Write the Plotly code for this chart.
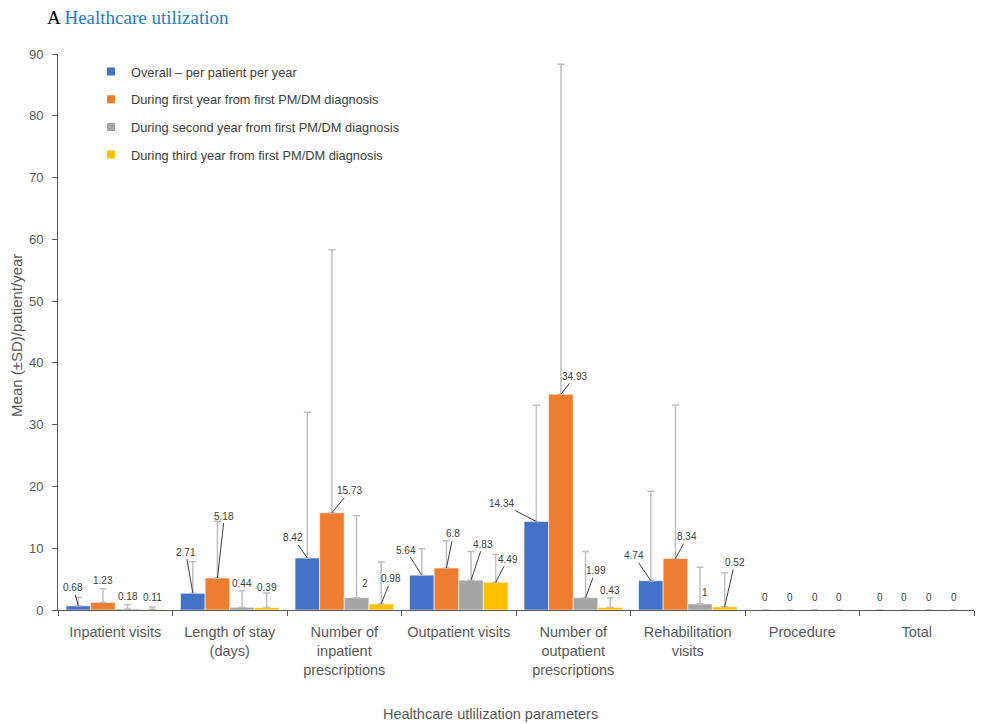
import plotly.graph_objects as go

# ---------------- data ----------------
categories = [
    "Inpatient visits",
    "Length of stay<br>(days)",
    "Number of<br>inpatient<br>prescriptions",
    "Outpatient visits",
    "Number of<br>outpatient<br>prescriptions",
    "Rehabilitation<br>visits",
    "Procedure",
    "Total",
]
series_names = [
    "Overall \u2013 per patient per year",
    "During first year from first PM/DM diagnosis",
    "During second year from first PM/DM diagnosis",
    "During third year from first PM/DM diagnosis",
]
overall = [0.68, 2.71, 8.42, 5.64, 14.34, 4.74, 0, 0]
first_year = [1.23, 5.18, 15.73, 6.8, 34.93, 8.34, 0, 0]
second_year = [0.18, 0.44, 2, 4.83, 1.99, 1, 0, 0]
third_year = [0.11, 0.39, 0.98, 4.49, 0.43, 0.52, 0, 0]

overall_sd = [1.4, 5.1, 23.6, 4.26, 18.8, 14.5, None, None]
first_year_sd = [2.2, 9.2, 42.6, 4.4, 53.4, 24.8, None, None]
second_year_sd = [0.68, 2.66, 13.3, 4.62, 7.46, 5.9, None, None]
third_year_sd = [0.38, 2.36, 6.8, 4.5, 1.57, 5.5, None, None]

values = [overall, first_year, second_year, third_year]
sds = [overall_sd, first_year_sd, second_year_sd, third_year_sd]

# ---------------- style ----------------
colors = ["#4472C4", "#ED7D31", "#A5A5A5", "#FFC000"]
BARGAP = 0.14
# label offsets (px) per series per category: (dx, dy, draw leader)
label_offsets = [
    [(-5, -18, True), (-7, -41, True), (-14, -20, True), (-16, -25, True),
     (-35, -18, True), (-17, -25, True), (0, -13, False), (0, -13, False)],
    [(0, -22, False), (7, -62, True), (18, -22, True), (7, -34, True),
     (14, -18, True), (12, -22, True), (0, -13, False), (0, -13, False)],
    [(0, -12, False), (0, -24, False), (8, -14, False), (12, -36, True),
     (10, -27, True), (5, -11, False), (0, -13, False), (0, -13, False)],
    [(0, -12, False), (0, -20, False), (10, -25, True), (12, -23, True),
     (0, -17, False), (10, -44, True), (0, -13, False), (0, -13, False)],
]

fig = go.Figure()
for i, (name, vals, sd) in enumerate(zip(series_names, values, sds)):
    fig.add_trace(go.Bar(
        x=categories, y=vals, name=name, showlegend=False,
        marker=dict(color=colors[i], line=dict(color="white", width=0.6)),
        error_y=dict(type="data", array=sd, symmetric=False,
                     arrayminus=[0] * len(sd), color="#BFBFBF",
                     thickness=1.5, width=3.5),
    ))
for i, name in enumerate(series_names):
    fig.add_trace(go.Scatter(
        x=[None], y=[None], mode="markers", name=name, legendgroup=f"g{i}",
        marker=dict(symbol="square", size=8, color=colors[i]),
    ))

bw = (1 - BARGAP) / 4
annotations = []
for i, vals in enumerate(values):
    for k, v in enumerate(vals):
        dx, dy, leader = label_offsets[i][k]
        xpos = k + (i - 1.5) * bw
        txt = f"{v:g}"
        if leader:
            annotations.append(dict(
                x=xpos, y=v, xref="x", yref="y", text=txt, showarrow=True,
                ax=dx, ay=dy, arrowhead=0, arrowwidth=1, arrowcolor="#404040",
                font=dict(size=10, color="#404040"),
            ))
        else:
            annotations.append(dict(
                x=xpos, y=v, xref="x", yref="y", text=txt, showarrow=False,
                xshift=dx, yshift=-dy, font=dict(size=10, color="#404040"),
            ))

annotations.append(dict(
    x=-0.0142, y=1.0665, xref="paper", yref="paper", xanchor="left", yanchor="middle",
    text="<span style='color:#000000'>A</span> Healthcare utilization", showarrow=False,
    font=dict(family="Liberation Serif, Times New Roman, serif", size=19, color="#1F7FC8"),
))
annotations.append(dict(
    x=-0.0459, y=0.4946, xref="paper", yref="paper", xanchor="center", yanchor="middle",
    text="Mean (\u00b1SD)/patient/year", textangle=-90, showarrow=False,
    font=dict(size=15, color="#595959"),
))
annotations.append(dict(
    x=0.472, y=-0.187, xref="paper", yref="paper", xanchor="center", yanchor="middle",
    text="Healthcare utlilization parameters", showarrow=False,
    font=dict(size=14.5, color="#595959"),
))

fig.update_layout(
    width=989, height=724,
    margin=dict(l=58, r=15, t=54, b=114),
    plot_bgcolor="white", paper_bgcolor="white",
    font=dict(family="Liberation Sans, Arial, sans-serif", color="#595959"),
    barmode="group", bargap=BARGAP, bargroupgap=0,
    legend=dict(x=0.036, y=0.995, xanchor="left", yanchor="top",
                font=dict(size=12.8, color="#404040"), tracegroupgap=8,
                bgcolor="rgba(0,0,0,0)"),
    annotations=annotations,
)
fig.update_xaxes(
    type="category", showline=True, linecolor="#595959", linewidth=1,
    ticks="outside", tickson="boundaries", ticklen=5, tickcolor="#595959",
    tickfont=dict(size=14.5, color="#595959"), showgrid=False,
    ticklabelstandoff=9,
)
fig.update_yaxes(
    range=[0, 90], dtick=10, showline=True, linecolor="#595959", linewidth=1,
    ticks="outside", ticklen=5, tickcolor="#595959", showgrid=False, zeroline=False,
    tickfont=dict(size=13, color="#595959"), ticklabelstandoff=6,
)

fig.write_html(
    "out.html",
    config={"displayModeBar": False},
    post_script="document.body.style.margin='0';document.body.style.overflow='hidden';",
)
